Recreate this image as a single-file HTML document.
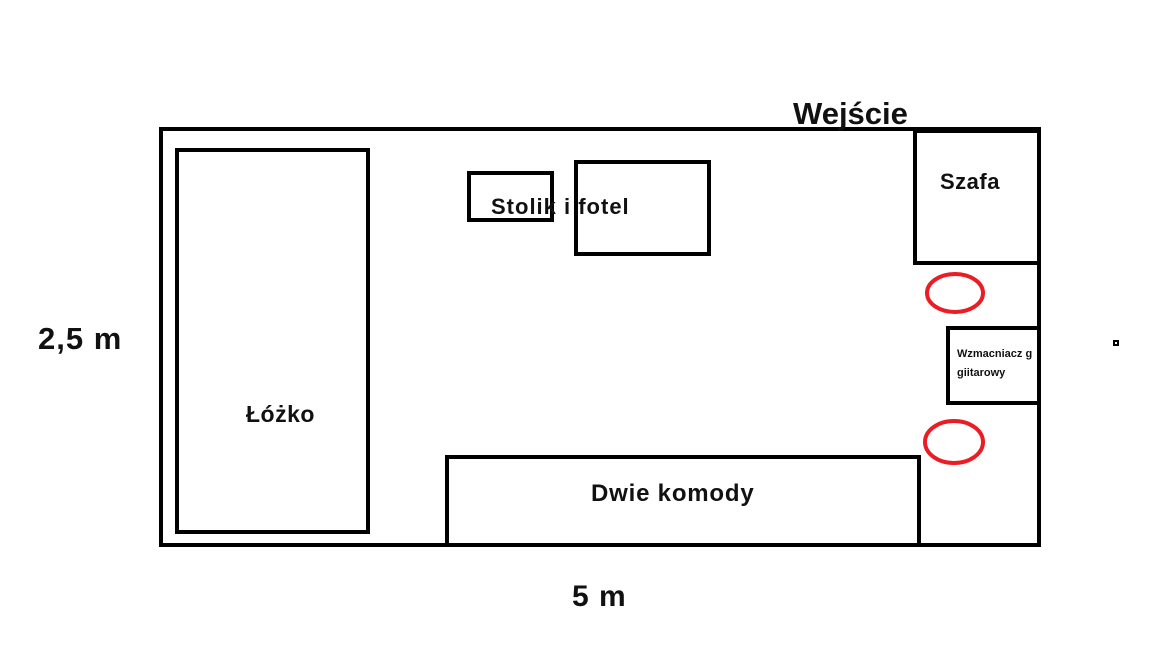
<!DOCTYPE html>
<html><head><meta charset="utf-8"><style>
body{margin:0;width:1152px;height:648px;background:#fff;position:relative;overflow:hidden;font-family:"Liberation Sans","DejaVu Sans",sans-serif;font-weight:bold;color:#111}
.b{position:absolute;box-sizing:border-box;border:4px solid #000}
.t{position:absolute;white-space:nowrap;line-height:1}
</style></head><body>
<div class="b" style="left:159px;top:127px;width:882px;height:420px"></div>
<div class="b" style="left:175px;top:148px;width:195px;height:386px"></div>
<div class="b" style="left:467px;top:171px;width:87px;height:51px"></div>
<div class="b" style="left:574px;top:160px;width:137px;height:96px"></div>
<div class="b" style="left:913px;top:129px;width:128px;height:136px"></div>
<div class="b" style="left:946px;top:326px;width:95px;height:79px"></div>
<div class="b" style="left:445px;top:455px;width:476px;height:92px"></div>
<div class="b" style="left:1113px;top:340px;width:6px;height:6px;border-width:2px"></div>
<svg style="position:absolute;left:0;top:0" width="1152" height="648">
<ellipse cx="955" cy="293" rx="28" ry="19" fill="none" stroke="#ea1c24" stroke-width="4"/>
<ellipse cx="954" cy="442" rx="29" ry="21" fill="none" stroke="#ea1c24" stroke-width="4"/>
</svg>
<div class="t" style="left:793px;top:98px;font-size:31px">Wejście</div>
<div class="t" style="left:38px;top:323px;font-size:31px;letter-spacing:1px">2,5 m</div>
<div class="t" style="left:572px;top:582px;font-size:30px;letter-spacing:1px">5 m</div>
<div class="t" style="left:246px;top:403px;font-size:23px;letter-spacing:0.5px">Łóżko</div>
<div class="t" style="left:591px;top:482px;font-size:24px;letter-spacing:0.8px">Dwie komody</div>
<div class="t" style="left:940px;top:171px;font-size:22px;letter-spacing:0.5px">Szafa</div>
<div class="t" style="left:491px;top:196px;font-size:22px;letter-spacing:1px">Stolik i fotel</div>
<div class="t" style="left:957px;top:349px;font-size:11px">Wzmacniacz g</div>
<div class="t" style="left:957px;top:368px;font-size:11px">giitarowy</div>
</body></html>
